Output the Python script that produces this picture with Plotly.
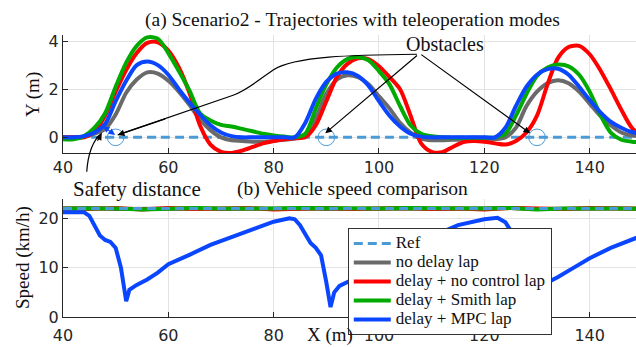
import plotly.graph_objects as go

# ---------------- data ----------------
traj_x = list(range(40, 151, 2))
traj_nodelay = [0.0, 0.0, 0.02, 0.15, 0.35, 0.95, 1.85, 2.4, 2.7, 2.65, 2.35, 1.9, 1.35, 0.75, 0.3, 0.0,
                -0.12, -0.15, -0.18, -0.18, -0.15, -0.1, -0.05, 0.1, 0.8, 1.8, 2.4, 2.58, 2.5, 2.2,
                1.7, 1.2, 0.6, 0.2, -0.05, -0.12, -0.12, -0.1, -0.1, -0.1, -0.1, -0.08, 0.0, 0.4,
                1.3, 1.9, 2.25, 2.37, 2.25, 1.9, 1.4, 0.9, 0.5, 0.2, 0.08, 0.05]
traj_nocontrol = [0.0, 0.0, 0.0, 0.25, 0.9, 1.9, 2.8, 3.5, 3.92, 3.95, 3.6, 2.9, 1.85, 0.5, -0.3, -0.6,
                  -0.65, -0.55, -0.4, -0.25, -0.15, -0.08, -0.04, 0.0, 0.5, 1.5, 2.5, 3.05, 3.28, 3.25,
                  2.95, 2.5, 2.0, 0.9, -0.25, -0.6, -0.62, -0.4, -0.2, -0.15, -0.18, -0.25, -0.3, -0.15,
                  0.2, 0.9, 2.2, 3.3, 3.75, 3.8, 3.45, 2.8, 2.0, 1.15, 0.4, 0.05]
traj_smith = [-0.08, -0.08, 0.05, 0.4, 1.0, 2.1, 3.1, 3.8, 4.15, 4.1, 3.5, 2.75, 1.95, 1.0, 0.7, 0.52,
              0.45, 0.35, 0.25, 0.15, 0.08, 0.03, 0.0, 0.15, 1.2, 2.2, 2.9, 3.25, 3.33, 3.2,
              2.75, 2.2, 1.3, 0.5, 0.15, 0.05, 0.0, -0.02, -0.02, -0.02, -0.02, 0.0, 0.15, 0.9,
              1.8, 2.55, 2.9, 3.02, 2.95, 2.6, 1.9, 0.95, 0.2, -0.1, -0.18, -0.2]
traj_mpc = [0.0, 0.0, 0.05, 0.2, 0.55, 1.5, 2.35, 3.0, 3.15, 3.0, 2.6, 2.0, 1.45, 0.95, 0.5, 0.2,
            0.05, 0.0, 0.0, 0.0, 0.0, 0.0, 0.0, 0.6, 1.6, 2.3, 2.65, 2.7, 2.55, 2.15,
            1.5, 0.9, 0.45, 0.15, 0.03, 0.0, 0.0, 0.0, 0.0, 0.0, 0.0, 0.0, 0.4, 1.3,
            2.1, 2.6, 2.83, 2.85, 2.6, 2.1, 1.55, 1.05, 0.65, 0.4, 0.22, 0.15]
traj_ref = [0.0] * len(traj_x)

speed_x = list(range(40, 151, 5))
speed_ref = [22.0] * len(speed_x)
speed_nodelay = [22.0, 22.1, 21.9, 22.0, 22.1, 22.0, 21.9, 22.0, 22.1, 22.0, 21.9, 22.0,
                 22.1, 22.0, 21.9, 22.0, 22.0, 22.1, 21.9, 22.0, 22.1, 22.0, 22.0]
speed_nocontrol = [22.0, 21.9, 22.1, 21.8, 22.1, 21.9, 22.0, 22.1, 21.8, 22.0, 22.1, 21.9,
                   22.0, 22.1, 21.9, 22.0, 21.8, 22.1, 22.0, 21.9, 22.1, 22.0, 21.9]
speed_smith = [22.0, 22.1, 22.0, 21.8, 22.0, 22.1, 22.0, 21.9, 22.0, 22.1, 22.0, 21.9,
               22.0, 22.1, 22.0, 21.9, 22.0, 22.1, 21.8, 22.0, 22.1, 22.0, 21.9]
mpc_speed_x = [40, 42, 44, 45, 46, 47, 48, 49, 50, 51, 52, 52.6, 54, 56, 58, 60, 64, 68, 72, 76, 80,
               83, 84, 85, 86, 87, 88, 89, 90, 90.8, 91.5, 92.5, 95, 100, 105, 110, 115, 120, 122.5,
               124, 125, 126.5, 128, 129.3, 130, 130.8, 132, 134, 137, 140, 144, 150]
mpc_speed = [21.2, 21.3, 21.2, 20.5, 18.5, 16.5, 15.6, 15.2, 14.0, 10.0, 3.2, 5.5, 6.5, 7.6, 9.0, 10.7,
             12.6, 14.6, 16.2, 17.8, 19.3, 20.0, 19.8, 18.6, 16.8, 15.0, 14.0, 12.5, 7.0, 2.0, 5.0, 6.3,
             7.6, 10.7, 13.5, 16.3, 18.6, 19.8, 20.1, 19.2, 17.5, 15.2, 13.5, 10.0, 2.2, 5.8, 7.0,
             8.1, 10.0, 11.9, 14.0, 16.5]

obstacle_x = [50, 90, 130]
obstacle_y = [0, 0, 0]

series_names = ["Ref", "no delay lap", "delay + no control lap", "delay + Smith lap", "delay + MPC lap"]
series_colors = ["#4a9ad6", "#6a6a6a", "#ff0000", "#00aa00", "#0a46ff"]

# ---------------- figure ----------------
fig = go.Figure()
SERIF = "Liberation Serif, Times New Roman, Times, serif"

traj_vals = [traj_ref, traj_nodelay, traj_nocontrol, traj_smith, traj_mpc]
for i, (name, col, ys) in enumerate(zip(series_names, series_colors, traj_vals)):
    fig.add_trace(go.Scatter(
        x=traj_x, y=ys,
        name='<span style="font-size:17px">' + name + '</span>',
        mode="lines",
        line=dict(color=col, width=3 if i == 0 else 4, dash="9px,5px" if i == 0 else "solid",
                  shape="spline", smoothing=0.8),
        legendrank=i + 1, xaxis="x", yaxis="y", hoverinfo="skip"))

speed_series = [(1, speed_x, speed_nodelay), (2, speed_x, speed_nocontrol), (3, speed_x, speed_smith),
                (4, mpc_speed_x, mpc_speed), (0, speed_x, speed_ref)]
for i, xs, ys in speed_series:
    fig.add_trace(go.Scatter(
        x=xs, y=ys, name=series_names[i], mode="lines", showlegend=False,
        line=dict(color=series_colors[i], width=3 if i == 0 else 4,
                  dash="9px,5px" if i == 0 else "solid"),
        xaxis="x2", yaxis="y2", hoverinfo="skip"))

axis_common = dict(showgrid=True, gridcolor="#e3e3e3", gridwidth=1, showline=True, linecolor="#262626",
                   linewidth=1, ticks="inside", ticklen=5, tickcolor="#262626", zeroline=False,
                   tickfont=dict(family="DejaVu Sans", size=16, color="#262626"), mirror=False)

fig.update_layout(
    width=636, height=347,
    font=dict(family=SERIF, color="#111"),
    margin=dict(l=63, r=0, t=35, b=30),
    paper_bgcolor="white", plot_bgcolor="white",
    xaxis=dict(domain=[0, 1], range=[40, 148.8], tickvals=[40, 60, 80, 100, 120, 140],
               anchor="y", ticklabelstandoff=0, **axis_common),
    yaxis=dict(domain=[0.5816, 1], range=[-0.65, 4.25], tickvals=[0, 2, 4], anchor="x", **axis_common),
    xaxis2=dict(domain=[0, 1], range=[40, 148.8], tickvals=[40, 60, 80, 100, 120, 140],
                anchor="y2", ticklabelstandoff=4, **axis_common),
    yaxis2=dict(domain=[0, 0.4184], range=[0, 23.9], tickvals=[0, 10, 20], anchor="x2", **axis_common),
    showlegend=True,
    legend=dict(x=0.497, y=0.3156, xanchor="left", yanchor="top", bgcolor="white",
                bordercolor="#333333", borderwidth=1, font=dict(family=SERIF, size=11, color="#111"),
                itemwidth=37, tracegroupgap=0),
)

# obstacle circles
for ox, oy in zip(obstacle_x, obstacle_y):
    fig.add_shape(type="circle", xref="x", yref="y", x0=ox - 1.58, x1=ox + 1.58, y0=oy - 0.345,
                  y1=oy + 0.345, line=dict(color="#4a9ad6", width=1))

# curved pointer from "Obstacles" to first obstacle
fig.add_shape(type="path", xref="x", yref="y",
              path="M 107.2,3.45 C 95,3.42 84,3.38 79.9,2.8 C 77.5,2.45 75,1.95 72.3,1.75 L 50.4,0.1",
              line=dict(color="black", width=1.2))

annotations = []
def txt(x, y, text, size, xref="paper", yref="paper", angle=0):
    annotations.append(dict(x=x, y=y, xref=xref, yref=yref, text=text, showarrow=False, textangle=angle,
                            font=dict(family=SERIF, size=size, color="#111"),
                            xanchor="center", yanchor="middle"))

txt(0.506, 1.053, "(a) Scenario2 - Trajectories with teleoperation modes", 19.5)
txt(0.506, 0.455, "(b) Vehicle speed comparison", 19.5)
txt(0.130, 0.455, "Safety distance", 21)
txt(0.466, -0.0638, "X (m)", 19)
txt(-0.0524, 0.7908, "Y (m)", 19, angle=-90)
txt(-0.0698, 0.2092, "Speed (km/h)", 19, angle=-90)
txt(112.6, 3.86, "Obstacles", 20, xref="x", yref="y")

# arrows
def arrow(x, y, ax, ay, color="black", side="end", ref="x"):
    annotations.append(dict(x=x, y=y, ax=ax, ay=ay, xref=ref, yref="y" if ref == "x" else "paper",
                            axref=ref, ayref="y" if ref == "x" else "paper", text="", showarrow=True,
                            arrowhead=2, startarrowhead=2, arrowsize=1.1, arrowwidth=1.2, arrowcolor=color,
                            arrowside=side))

arrow(89.8, 0.17, 107.5, 3.45)
arrow(128.7, 0.17, 107.75, 3.48)
arrow(50.4, 0.1, 59.7, 0.79)
arrow(49.9, 0.1, 47.3, 0.51, color="#0a46ff", side="end+start")

fig.add_shape(type="path", xref="paper", yref="paper",
              path="M 0.0414,0.5152 Q 0.045,0.615 0.0675,0.6514", line=dict(color="black", width=1.2))
annotations.append(dict(x=0.0675, y=0.6514, xref="paper", yref="paper", ax=-5, ay=9, text="",
                        showarrow=True, arrowhead=2, arrowsize=1.1, arrowwidth=1.2, arrowcolor="black"))

fig.update_layout(annotations=annotations)
fig.write_html("out.html", config={"displayModeBar": False},
               post_script="document.body.style.margin='0px';document.body.style.overflow='hidden';")
